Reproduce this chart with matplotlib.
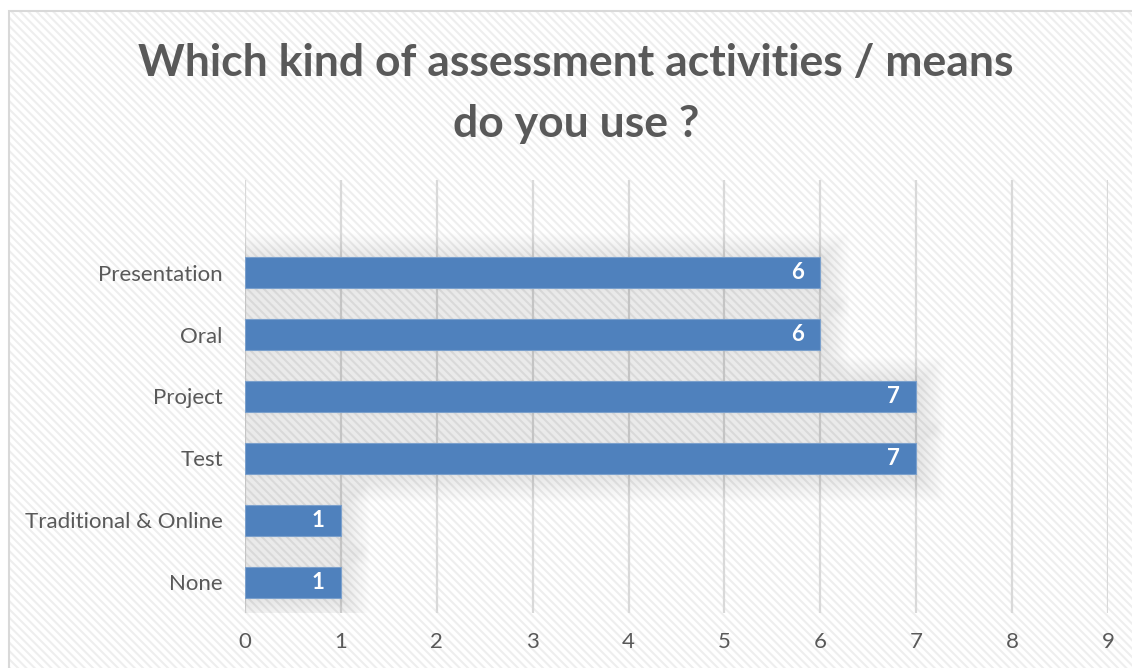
import matplotlib.pyplot as plt
from matplotlib.patches import Rectangle

# survey answers, bottom to top as they sit on the axis
categories = ["None", "Traditional & Online", "Test", "Project", "Oral", "Presentation"]
counts = [1, 1, 7, 7, 6, 6]
x_ticks = list(range(10))
title = "Which kind of assessment activities / means\ndo you use ?"

BLUE = "#4f81bd"
TEXT = "#595959"
GRID = "#d9d9d9"

plt.rcParams["font.family"] = ["Lato", "DejaVu Sans"]
plt.rcParams["hatch.linewidth"] = 1.5

W, H = 1132, 668
fig = plt.figure(figsize=(W / 100, H / 100), dpi=100)
fig.patch.set_facecolor("white")

# striped chart area, it runs past the right and bottom edges
cx, cy = 9 / W, 1 - 11 / H
fig.patches.append(Rectangle((cx, -0.1), 1.2, cy + 0.1, transform=fig.transFigure,
                             facecolor="white", edgecolor="#eeeeee", linewidth=0,
                             hatch="\\\\\\\\", zorder=-2))
fig.patches.append(Rectangle((cx, -0.1), 1.2, cy + 0.1, transform=fig.transFigure,
                             fill=False, edgecolor=GRID, linewidth=1.5, zorder=-1))

ax = fig.add_axes([245 / W, 1 - 613 / H, (1108 - 245) / W, (613 - 180) / H])
ax.set_facecolor("none")
ax.set_xlim(0, 9)
ax.set_ylim(-0.5, 6.5)

# px per data unit, used to size the soft shadow
ux = (1108 - 245) / 9
uy = (613 - 180) / 7
bar_h = 0.5

# soft glow-like shadow: stacked faint rectangles growing outwards
for i, v in enumerate(counts):
    for k in range(1, 25):
        pad = k * 1.1
        ax.add_patch(Rectangle((-pad / ux + 2 / ux, i - bar_h / 2 - pad / uy - 2 / uy),
                               v + 2 * pad / ux, bar_h + 2 * pad / uy,
                               facecolor="black", alpha=0.0038, linewidth=0, zorder=1))

ax.barh(range(len(categories)), counts, height=bar_h, color=BLUE,
        edgecolor="#7ba0cc", linewidth=0.8, zorder=3)

for i, v in enumerate(counts):
    ax.annotate(str(v), (v, i), xytext=(-23, 0), textcoords="offset pixels",
                ha="center", va="center", color="white", fontsize=16,
                fontweight="bold", zorder=4)

ax.set_xticks(x_ticks)
ax.set_yticks(range(len(categories)), categories)
ax.tick_params(axis="both", length=0, colors=TEXT, labelsize=16)
ax.tick_params(axis="y", pad=16)
ax.tick_params(axis="x", pad=14)
ax.xaxis.grid(True, color=GRID, linewidth=1.6, zorder=0)
ax.set_axisbelow(True)
for s in ax.spines.values():
    s.set_visible(False)

fig.text(0.509, 1 - 93.5 / H, title, ha="center", va="center", fontsize=32,
         fontweight="bold", color=TEXT, linespacing=1.64)

fig.savefig("out.png", dpi=100)
